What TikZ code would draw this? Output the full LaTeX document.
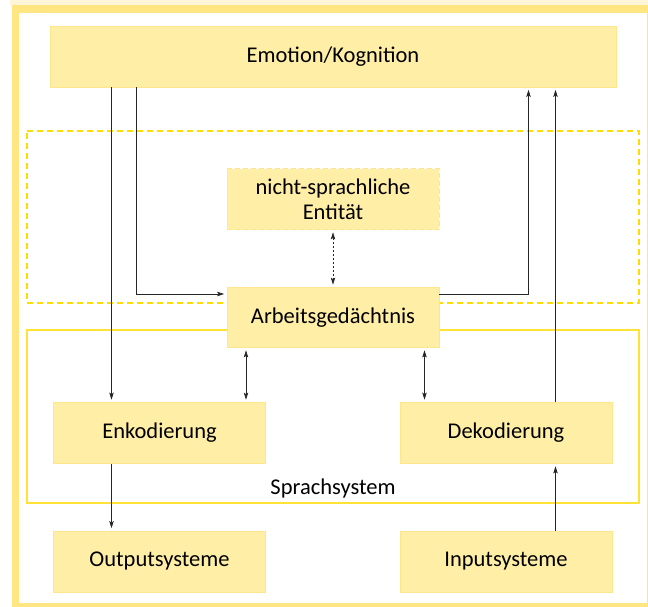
\documentclass[tikz,border=0pt]{standalone}
\usepackage{fontspec}
\setmainfont{Carlito}
\usetikzlibrary{arrows.meta}
\definecolor{boxfill}{HTML}{FFEFA6}
\definecolor{boxline}{HTML}{FFE68C}
\definecolor{frameY}{HTML}{FFE680}
\definecolor{dashY}{HTML}{FFDD00}
\definecolor{sysY}{HTML}{FFE233}
\definecolor{topY}{HTML}{FFF6DA}
\begin{document}
\begin{tikzpicture}[x=1pt,y=-1pt,
  box/.style={draw=boxline, line width=0.8pt, fill=boxfill, rectangle,
    minimum width=212pt, minimum height=60pt, inner sep=0pt, align=center,
    font=\fontsize{22.5}{25}\selectfont},
  conn/.style={draw=black!85, line width=0.7pt, -{Stealth[length=7pt,width=4.5pt,inset=1.5pt]}, shorten >=2.5pt},
  dconn/.style={draw=black!85, line width=0.7pt, {Stealth[length=7pt,width=4.5pt,inset=1.5pt]}-{Stealth[length=7pt,width=4.5pt,inset=1.5pt]}, shorten >=2.5pt, shorten <=2.5pt},
  lbl/.style={font=\fontsize{22.5}{25}\selectfont, inner sep=0pt}
]
\useasboundingbox (0,0) rectangle (648,606);
\clip (0,0) rectangle (648,606);
% page frame
\fill[topY] (10,0) rectangle (648,5.3);
\draw[frameY, line width=7.5pt] (15.5,9) rectangle (651,607);
% group frames
\draw[dashY, line width=1.6pt, dash pattern=on 6pt off 4pt]
  (27,131) -- (639,131) -- (639,303) -- (27,303) -- cycle;
\draw[sysY, line width=1.6pt]
  (27,330) -- (639,330) -- (639,503) -- (27,503) -- cycle;
% nodes
\node[box, minimum width=566pt, minimum height=61pt] (emo) at (333,56.5) {Emotion/Kognition};
\node[box, dashed, draw=boxline, dash pattern=on 5pt off 3pt, minimum height=61pt] (nsp) at (333,199) {nicht-sprachliche\\Entität};
\node[box] (ag) at (333,317.5) {Arbeitsgedächtnis};
\node[box, minimum height=61pt] (enk) at (159.5,433) {Enkodierung};
\node[box, minimum height=61pt] (dek) at (506,433) {Dekodierung};
\node[box, minimum height=61pt] (out) at (159.5,561.5) {Outputsysteme};
\node[box, minimum height=61pt] (inp) at (506,561.5) {Inputsysteme};
\node[lbl] (sys) at (333,488) {Sprachsystem};
% helper coordinates
\coordinate (a1) at (111.5,294);
\coordinate (l1) at (136,294);
\coordinate (r1) at (528.5,294);
\coordinate (r2) at (555.5,294);
\coordinate (d1) at (246,0);
\coordinate (d2) at (424.5,0);
% connectors
\draw[conn] (emo.south -| a1) -- (enk.north -| a1);
\draw[conn] (emo.south -| l1) |- (ag.west |- l1);
\draw[conn] (ag.east |- r1) -| (emo.south -| r1);
\draw[conn] (dek.north -| r2) -- (emo.south -| r2);
\draw[dconn, dashed, dash pattern=on 2.5pt off 1.5pt] (nsp.south) -- (ag.north);
\draw[dconn] (ag.south -| d1) -- (enk.north -| d1);
\draw[dconn] (ag.south -| d2) -- (dek.north -| d2);
\draw[conn] (enk.south -| a1) -- (out.north -| a1);
\draw[conn] (inp.north -| r2) -- (dek.south -| r2);
\end{tikzpicture}
\end{document}
